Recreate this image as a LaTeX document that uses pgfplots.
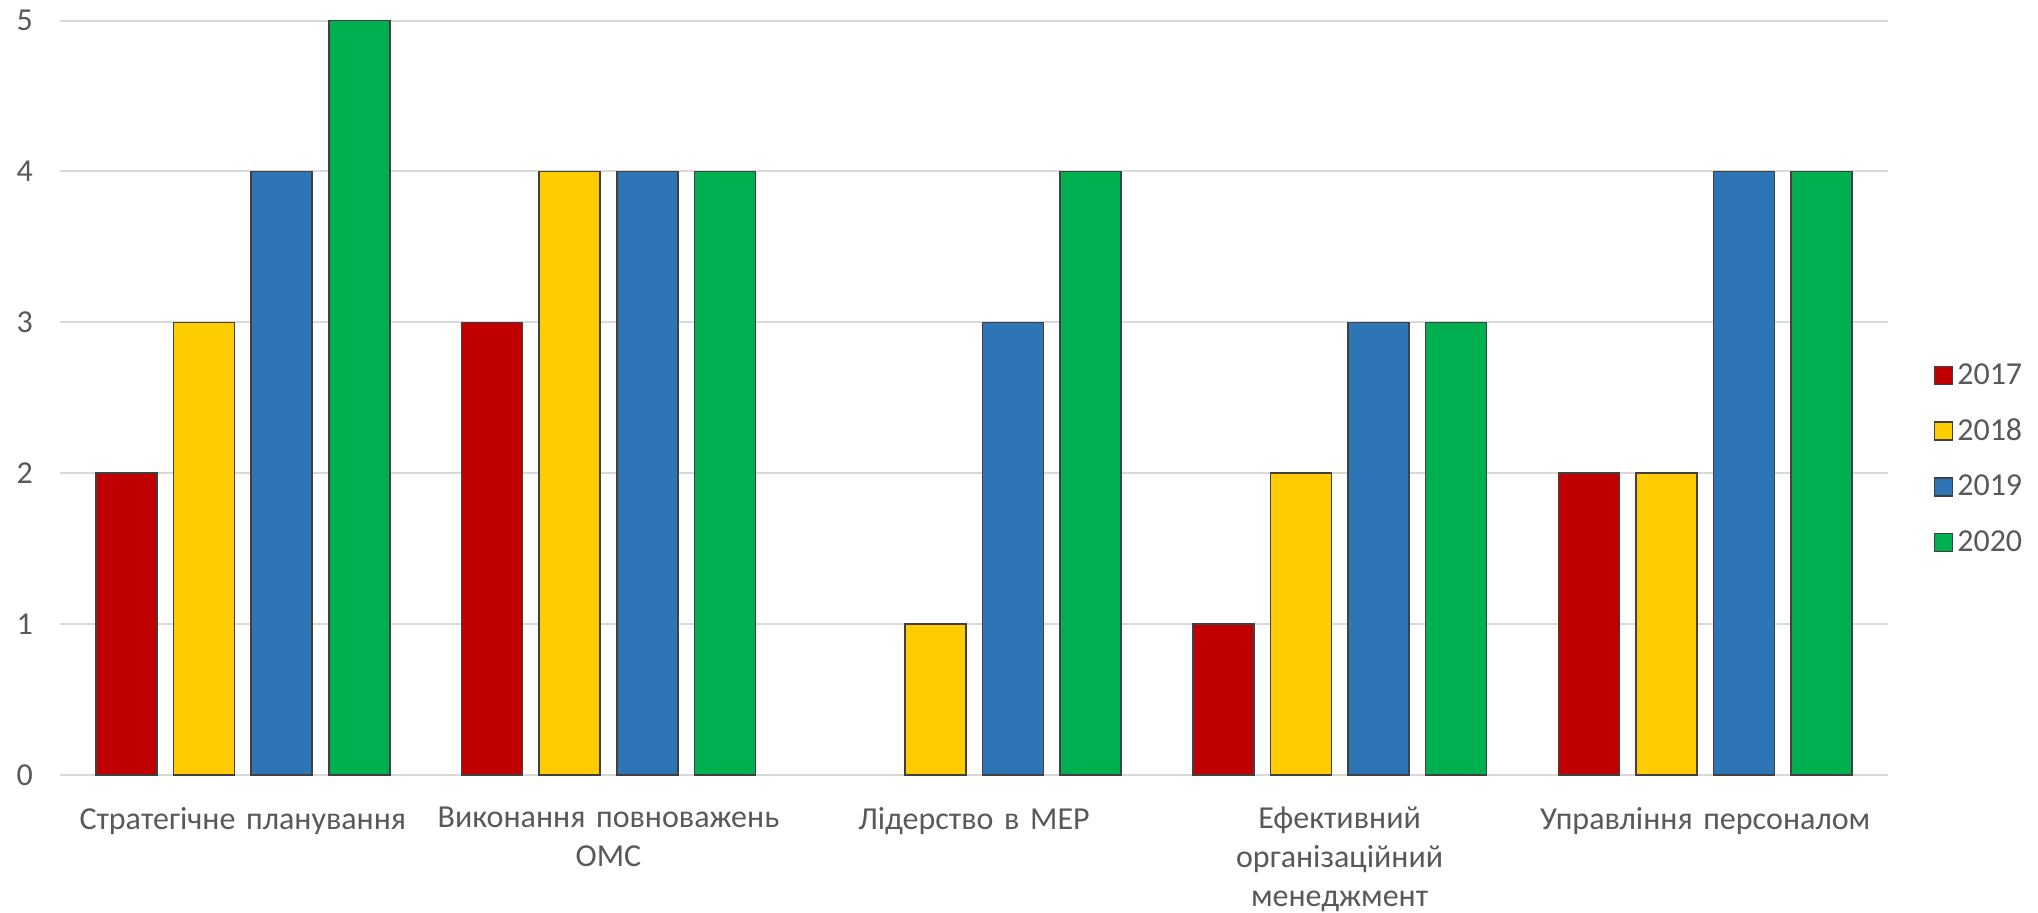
\documentclass[border=0pt]{standalone}
\usepackage{fontspec}
\setmainfont{Carlito}[WordSpace=0.7]
\usepackage{pgfplots}
\pgfplotsset{compat=1.18}
\definecolor{cA}{HTML}{C00000}
\definecolor{cB}{HTML}{FFCC00}
\definecolor{cC}{HTML}{2E75B6}
\definecolor{cD}{HTML}{00B050}
\definecolor{txt}{HTML}{595959}
\definecolor{grd}{HTML}{D9D9D9}
\definecolor{edge}{HTML}{404040}
\newcommand{\fs}{\fontsize{16}{19.5}\selectfont}
\begin{document}
\begin{tikzpicture}
\begin{axis}[
  at={(30pt,68.5pt)}, anchor=south west,
  scale only axis, width=914pt, height=377.25pt,
  ybar=8.3pt, bar width=30.5pt,
  xmin=-0.5, xmax=4.5, ymin=0, ymax=5,
  xtick={0,1,2,3,4},
  xticklabels={{Стратегічне планування},{Виконання повноважень\\ОМС},{Лідерство в МЕР},{Ефективний\\організаційний\\менеджмент},{Управління персоналом}},
  x tick label style={align=center, text width=178pt, font=\fs, text=txt, yshift=-12.5pt},
  ytick={0,1,2,3,4,5},
  y tick label style={font=\fs, text=txt, xshift=-10pt},
  /pgf/number format/assume math mode=true,
  ymajorgrids, grid style={grd, line width=1pt},
  axis x line*=bottom, axis y line*=left,
  y axis line style={draw=none},
  x axis line style={grd, line width=1pt, -},
  major tick length=0pt,
  legend style={at={(1.0215,0.419)}, anchor=west, draw=none, font=\fs, text=txt, row sep=11.75pt, /tikz/every even column/.append style={column sep=8pt}},
  legend cell align=left,
  legend image code/.code={\draw[#1, draw=edge, line width=0.8pt] (0pt,-4.5pt) rectangle (9pt,4.5pt);},
  every axis plot/.append style={draw=edge, line width=0.8pt},
]
\addplot[fill=cA] coordinates {(0,2) (1,3) (3,1) (4,2)};
\addplot[fill=cB] coordinates {(0,3) (1,4) (2,1) (3,2) (4,2)};
\addplot[fill=cC] coordinates {(0,4) (1,4) (2,3) (3,3) (4,4)};
\addplot[fill=cD] coordinates {(0,5) (1,4) (2,4) (3,3) (4,4)};
\legend{2017,2018,2019,2020}
\end{axis}
\pgfresetboundingbox
\useasboundingbox (0,0) rectangle (1019pt,456pt);
\end{tikzpicture}
\end{document}
